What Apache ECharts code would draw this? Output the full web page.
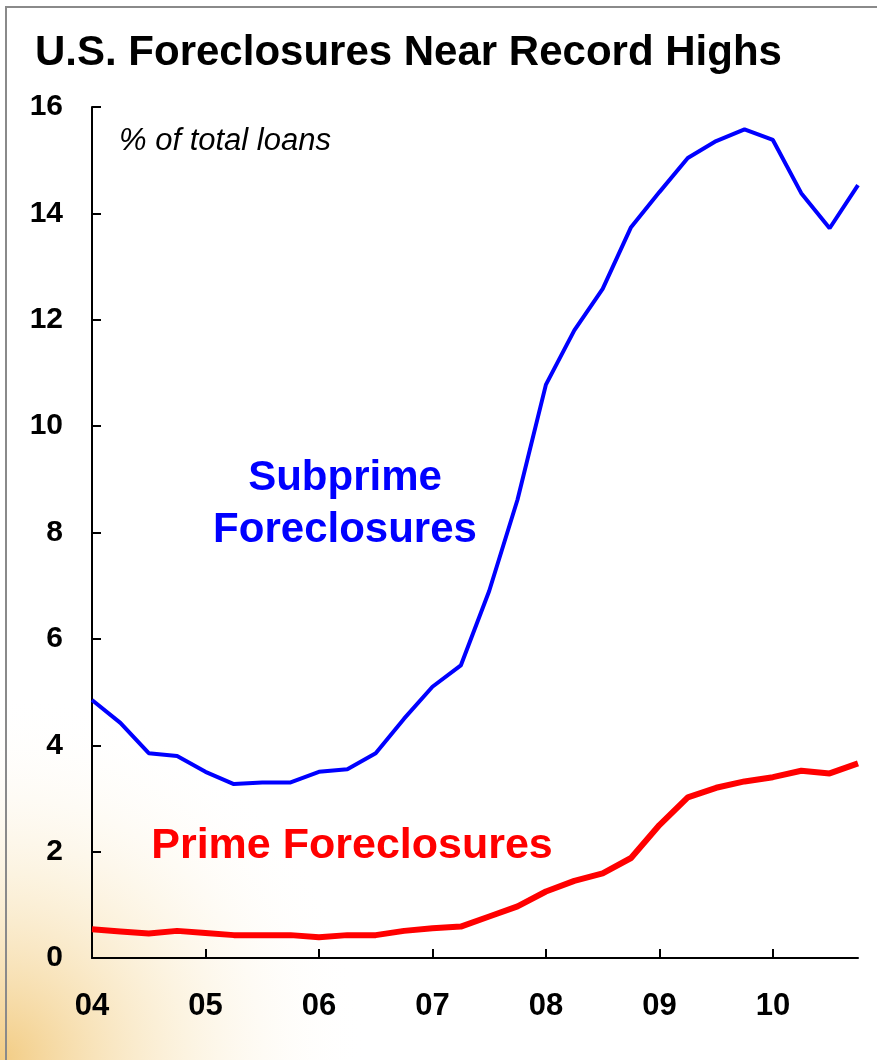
<!DOCTYPE html>
<html>
<head>
<meta charset="utf-8">
<script src="https://cdn.jsdelivr.net/npm/echarts@6/dist/echarts.min.js"></script>
<style>
  html, body { margin: 0; padding: 0; background: #fff; }
  #chart { width: 877px; height: 1060px; }
</style>
</head>
<body>
<div id="chart"></div>
<script>
  // quarterly, 2004Q1 - 2010Q4
  const quarters = []
  for (let y = 4; y <= 10; y++) {
    for (let q = 1; q <= 4; q++) quarters.push((y < 10 ? '0' : '') + y + 'Q' + q)
  }
  const subprime = [
    4.85, 4.42, 3.85, 3.8, 3.5, 3.27, 3.3, 3.3, 3.5, 3.55, 3.85, 4.5, 5.1, 5.5,
    6.9, 8.62, 10.78, 11.8, 12.58, 13.74, 14.4, 15.04, 15.36, 15.58, 15.38, 14.38,
    13.72, 14.53,
  ]
  const prime = [
    0.54, 0.5, 0.46, 0.51, 0.47, 0.43, 0.43, 0.43, 0.39, 0.43, 0.43, 0.51, 0.56,
    0.59, 0.78, 0.97, 1.25, 1.45, 1.59, 1.88, 2.5, 3.02, 3.2, 3.32, 3.4, 3.52,
    3.47, 3.66,
  ]
  const yTicks = { min: 0, max: 16, interval: 2 }

  const font = 'Liberation Sans, Arial, sans-serif'
  const chart = echarts.init(document.getElementById('chart'))
  chart.setOption({
    animation: false,
    backgroundColor: '#fff',
    textStyle: { fontFamily: font },
    title: {
      text: 'U.S. Foreclosures Near Record Highs',
      left: 30,
      top: 27,
      textStyle: { fontSize: 42, fontWeight: 'bold', color: '#000' },
    },
    grid: { left: 92, right: 19, top: 107, bottom: 102 },
    xAxis: {
      type: 'category',
      data: quarters,
      boundaryGap: false,
      axisLine: { lineStyle: { color: '#000', width: 2 } },
      axisTick: { inside: true, length: 9, interval: 3, lineStyle: { color: '#000', width: 2 } },
      axisLabel: {
        interval: 3,
        margin: 33,
        fontSize: 31,
        fontWeight: 'bold',
        color: '#000',
        formatter: (v) => v.slice(0, 2),
      },
    },
    yAxis: {
      type: 'value',
      min: yTicks.min,
      max: yTicks.max,
      interval: yTicks.interval,
      splitLine: { show: false },
      axisLine: { show: true, lineStyle: { color: '#000', width: 2 } },
      axisTick: { show: true, inside: true, length: 9, lineStyle: { color: '#000', width: 2 } },
      axisLabel: { margin: 29, fontSize: 30, fontWeight: 'bold', color: '#000' },
    },
    graphic: [
      {
        type: 'rect',
        z: -10,
        silent: true,
        shape: { x: 0, y: 0, width: 877, height: 1060 },
        style: {
          fill: {
            type: 'radial', x: 0, y: 1, r: 0.42,
            colorStops: [
              { offset: 0, color: 'rgba(240,195,110,0.85)' },
              { offset: 0.5, color: 'rgba(248,228,185,0.45)' },
              { offset: 1, color: 'rgba(255,255,255,0)' },
            ],
          },
        },
      },
      {
        type: 'polyline',
        z: -5,
        silent: true,
        shape: { points: [[6, 1060], [6, 7], [877, 7]] },
        style: { stroke: '#8a8a8a', lineWidth: 2, fill: null },
      },
      {
        type: 'text',
        left: 119,
        top: 126,
        style: { text: '% of total loans', font: 'italic 31px ' + font, fill: '#000' },
      },
      {
        type: 'text',
        x: 345,
        y: 504,
        style: {
          text: 'Subprime\nForeclosures',
          font: 'bold 42px ' + font,
          fill: '#0000ff',
          align: 'center',
          verticalAlign: 'middle',
          lineHeight: 52,
        },
      },
      {
        type: 'text',
        x: 352,
        y: 846,
        style: {
          text: 'Prime Foreclosures',
          font: 'bold 43px ' + font,
          fill: '#ff0000',
          align: 'center',
          verticalAlign: 'middle',
        },
      },
    ],
    series: [
      {
        name: 'Subprime Foreclosures',
        type: 'line',
        data: subprime,
        symbol: 'none',
        lineStyle: { color: '#0000ff', width: 4 },
      },
      {
        name: 'Prime Foreclosures',
        type: 'line',
        data: prime,
        symbol: 'none',
        lineStyle: { color: '#ff0000', width: 6 },
      },
    ],
  })
</script>
</body>
</html>
